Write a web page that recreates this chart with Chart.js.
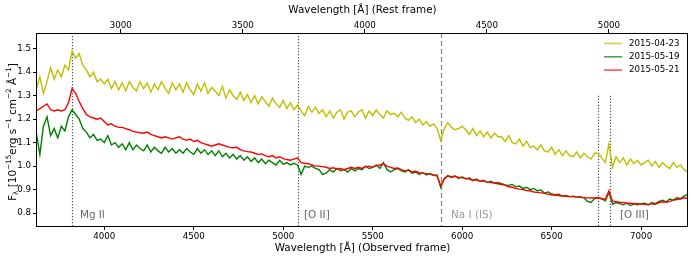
<!DOCTYPE html>
<html>
<head>
<meta charset="utf-8">
<script src="https://cdn.jsdelivr.net/npm/chart.js@4.4.0/dist/chart.umd.min.js"></script>
<style>
  html, body { margin: 0; padding: 0; background: #fff; }
  canvas { display: block; }
</style>
</head>
<body>
<canvas id="spectrum" width="694" height="258"></canvas>
<script>
// observed wavelength grid (A)
const WAVELENGTH = [
  3620, 3640, 3660, 3680, 3700, 3720, 3740, 3760, 3780, 3800,
  3820, 3840, 3860, 3880, 3900, 3920, 3940, 3960, 3980, 4000,
  4020, 4040, 4060, 4080, 4100, 4120, 4140, 4160, 4180, 4200,
  4220, 4240, 4260, 4280, 4300, 4320, 4340, 4360, 4380, 4400,
  4420, 4440, 4460, 4480, 4500, 4520, 4540, 4560, 4580, 4600,
  4620, 4640, 4660, 4680, 4700, 4720, 4740, 4760, 4780, 4800,
  4820, 4840, 4860, 4880, 4900, 4920, 4940, 4960, 4980, 5000,
  5020, 5040, 5060, 5080, 5100, 5120, 5140, 5160, 5180, 5200,
  5220, 5240, 5260, 5280, 5300, 5320, 5340, 5360, 5380, 5400,
  5420, 5440, 5460, 5480, 5500, 5520, 5540, 5560, 5580, 5600,
  5620, 5640, 5660, 5680, 5700, 5720, 5740, 5760, 5780, 5800,
  5820, 5840, 5860, 5880, 5900, 5920, 5940, 5960, 5980, 6000,
  6020, 6040, 6060, 6080, 6100, 6120, 6140, 6160, 6180, 6200,
  6220, 6240, 6260, 6280, 6300, 6320, 6340, 6360, 6380, 6400,
  6420, 6440, 6460, 6480, 6500, 6520, 6540, 6560, 6580, 6600,
  6620, 6640, 6660, 6680, 6700, 6720, 6740, 6760, 6780, 6800,
  6820, 6840, 6860, 6880, 6900, 6920, 6940, 6960, 6980, 7000,
  7020, 7040, 7060, 7080, 7100, 7120, 7140, 7160, 7180, 7200,
  7220, 7240, 7260
];

// 2015-04-23
const FLUX_0423 = [
  1.33, 1.38, 1.31, 1.36, 1.42, 1.37, 1.41, 1.38, 1.43, 1.41,
  1.49, 1.46, 1.48, 1.43, 1.41, 1.38, 1.40, 1.36, 1.37, 1.35,
  1.37, 1.33, 1.36, 1.325, 1.355, 1.32, 1.36, 1.335, 1.32, 1.36,
  1.33, 1.355, 1.315, 1.35, 1.325, 1.36, 1.33, 1.31, 1.355, 1.325,
  1.35, 1.315, 1.355, 1.325, 1.305, 1.35, 1.32, 1.355, 1.31, 1.335,
  1.32, 1.30, 1.34, 1.29, 1.325, 1.30, 1.285, 1.315, 1.28, 1.305,
  1.27, 1.30, 1.265, 1.295, 1.275, 1.255, 1.29, 1.265, 1.25, 1.28,
  1.245, 1.27, 1.24, 1.26, 1.235, 1.215, 1.255, 1.23, 1.25, 1.225,
  1.24, 1.21, 1.235, 1.205, 1.23, 1.24, 1.20, 1.23, 1.235, 1.21,
  1.23, 1.24, 1.205, 1.235, 1.215, 1.24, 1.22, 1.205, 1.235, 1.22,
  1.225, 1.21, 1.23, 1.205, 1.195, 1.21, 1.185, 1.20, 1.175, 1.19,
  1.17, 1.18, 1.16, 1.11, 1.16, 1.185, 1.165, 1.155, 1.16, 1.17,
  1.155, 1.135, 1.16, 1.13, 1.15, 1.125, 1.145, 1.12, 1.14, 1.125,
  1.125, 1.105, 1.13, 1.10, 1.095, 1.115, 1.085, 1.105, 1.08, 1.085,
  1.07, 1.09, 1.065, 1.06, 1.08, 1.05, 1.07, 1.045, 1.065, 1.045,
  1.04, 1.06, 1.035, 1.055, 1.04, 1.03, 1.055, 1.055, 1.035, 1.015,
  1.095, 0.995, 1.04, 1.015, 1.035, 1.005, 1.03, 1.01, 1.025, 1.005,
  1.015, 1.025, 1.0, 1.02, 0.995, 1.015, 1.0, 0.99, 1.015, 0.995,
  1.005, 0.985, 0.975
];

// 2015-05-19
const FLUX_0519 = [
  1.14, 1.05, 1.17, 1.21, 1.13, 1.16, 1.12, 1.17, 1.15, 1.21,
  1.24, 1.22, 1.20, 1.16, 1.145, 1.12, 1.135, 1.11, 1.115, 1.10,
  1.13, 1.09, 1.10, 1.08, 1.095, 1.07, 1.10, 1.07, 1.09, 1.075,
  1.065, 1.09, 1.06, 1.08, 1.065, 1.055, 1.08, 1.06, 1.075, 1.055,
  1.07, 1.055, 1.075, 1.06, 1.05, 1.075, 1.055, 1.07, 1.05, 1.065,
  1.045, 1.065, 1.04, 1.055, 1.035, 1.05, 1.03, 1.045, 1.025, 1.04,
  1.02, 1.035, 1.015, 1.03, 1.01, 1.025, 1.015, 1.005, 1.025, 1.008,
  1.015, 1.005, 1.012, 1.005, 0.965, 1.0, 0.995, 1.0, 0.99, 0.985,
  0.965, 0.97, 0.985, 0.975, 0.99, 0.98, 0.985, 0.975, 0.99, 0.98,
  0.99, 0.985, 1.0, 0.99, 0.995, 1.005, 0.99, 1.015, 0.985, 0.975,
  0.985, 0.99, 0.98, 0.975, 0.985, 0.97, 0.975, 0.965, 0.972, 0.962,
  0.968, 0.96, 0.962, 0.91, 0.948, 0.96, 0.952, 0.958, 0.948, 0.955,
  0.945, 0.95, 0.938, 0.945, 0.935, 0.94, 0.93, 0.936, 0.928, 0.93,
  0.925, 0.92, 0.918, 0.922, 0.912, 0.915, 0.905, 0.91, 0.90, 0.905,
  0.895, 0.898, 0.885, 0.89, 0.882, 0.878, 0.88, 0.872, 0.875, 0.87,
  0.872, 0.868, 0.87, 0.865, 0.85, 0.845, 0.862, 0.865, 0.86, 0.852,
  0.888, 0.838, 0.845, 0.84, 0.835, 0.842, 0.832, 0.838, 0.835, 0.84,
  0.842, 0.835, 0.845, 0.84, 0.85, 0.855, 0.848, 0.86, 0.855, 0.865,
  0.862, 0.872, 0.88
];

// 2015-05-21
const FLUX_0521 = [
  1.235, 1.245, 1.255, 1.265, 1.24, 1.235, 1.24, 1.235, 1.24, 1.27,
  1.33, 1.31, 1.275, 1.245, 1.22, 1.21, 1.205, 1.20, 1.205, 1.19,
  1.175, 1.18, 1.17, 1.165, 1.165, 1.16, 1.155, 1.148, 1.145, 1.142,
  1.14, 1.145, 1.135, 1.13, 1.125, 1.12, 1.125, 1.12, 1.115, 1.12,
  1.125, 1.115, 1.11, 1.115, 1.105, 1.11, 1.10, 1.095, 1.09, 1.085,
  1.09, 1.095, 1.09, 1.085, 1.08, 1.078, 1.08, 1.07, 1.065, 1.062,
  1.06, 1.055, 1.05, 1.052, 1.045, 1.04, 1.045, 1.035, 1.04, 1.032,
  1.028, 1.025, 1.03, 1.035, 1.015, 1.012, 1.01, 1.005, 1.0, 1.0,
  0.998, 0.995, 0.99, 0.993, 0.988, 0.99, 0.985, 0.99, 0.995, 0.99,
  0.995, 0.99, 0.998, 1.0, 0.995, 1.002, 1.005, 1.01, 1.0, 0.995,
  0.99, 0.992, 0.985, 0.98, 0.983, 0.975, 0.978, 0.972, 0.97, 0.968,
  0.966, 0.962, 0.958, 0.915, 0.945, 0.958, 0.955, 0.957, 0.952, 0.95,
  0.948, 0.945, 0.94, 0.942, 0.935, 0.937, 0.932, 0.93, 0.928, 0.925,
  0.922, 0.918, 0.912, 0.91, 0.905, 0.902, 0.90, 0.896, 0.895, 0.89,
  0.888, 0.886, 0.884, 0.88, 0.878, 0.876, 0.875, 0.873, 0.872, 0.87,
  0.87, 0.868, 0.867, 0.866, 0.865, 0.864, 0.864, 0.865, 0.862, 0.858,
  0.895, 0.852, 0.848, 0.846, 0.845, 0.843, 0.842, 0.84, 0.84, 0.838,
  0.837, 0.836, 0.84, 0.838, 0.845, 0.848, 0.846, 0.85, 0.855, 0.858,
  0.86, 0.865, 0.862
];

const DATES = ['2015-04-23', '2015-05-19', '2015-05-21'];
const COLORS = ['#bfbf00', '#008000', '#ff0000'];

const OBS_TICKS = [4000, 4500, 5000, 5500, 6000, 6500, 7000];
const REST_TICKS = [3000, 3500, 4000, 4500, 5000];
const FLUX_TICKS = [0.8, 0.9, 1.0, 1.1, 1.2, 1.3, 1.4, 1.5];

const ONE_PLUS_Z = 1.364;
const OBS_MIN = 3624, OBS_MAX = 7262;
const FLUX_MIN = 0.745, FLUX_MAX = 1.567;

// emission / absorption lines (observed wavelength)
const LINE_NAMES = ['Mg II', '[O II]', 'Na I (IS)', '[O III]'];
const LINE_WAVES = [[3818], [5082], [5880], [6760, 6826]];
const LINE_LABEL_AT = [3864, 5116, 5938, 6882];

const FONT = '"DejaVu Sans", sans-serif';

function series(flux) {
  return WAVELENGTH.map((w, i) => ({ x: w, y: flux[i] }));
}

// y title with sub/superscripts
const Y_TITLE = [
  ['F', 1, 0], ['\u03bb', 0.7, 2.5], [' [10', 1, 0], ['\u221215', 0.7, -4.5],
  ['erg s', 1, 0], ['\u22121', 0.7, -4.5], [' cm', 1, 0], ['\u22122', 0.7, -4.5],
  [' \u00c5', 1, 0], ['\u22121', 0.7, -4.5], [']', 1, 0]
];

function drawRich(ctx, parts, size) {
  let total = 0;
  parts.forEach(p => {
    ctx.font = (size * p[1]) + 'px ' + FONT;
    total += ctx.measureText(p[0]).width;
  });
  let x = -total / 2;
  parts.forEach(p => {
    ctx.font = (size * p[1]) + 'px ' + FONT;
    ctx.fillText(p[0], x, 3.8 + p[2]);
    x += ctx.measureText(p[0]).width;
  });
}

const decor = {
  id: 'decor',
  beforeDatasetsDraw(chart) {
    const ctx = chart.ctx, a = chart.chartArea;
    const xs = chart.scales.x, ys = chart.scales.y;
    ctx.save();
    ctx.lineWidth = 1.2;
    LINE_WAVES.forEach((waves, i) => {
      const isNa = LINE_NAMES[i].startsWith('Na');
      ctx.strokeStyle = isNa ? '#8a8a8a' : '#555';
      ctx.setLineDash(isNa ? [5, 3] : [1.2, 1.8]);
      const top = LINE_NAMES[i] === '[O III]' ? ys.getPixelForValue(1.3) : a.top;
      waves.forEach(w => {
        const px = Math.round(xs.getPixelForValue(w)) + 0.5;
        ctx.beginPath();
        ctx.moveTo(px, top);
        ctx.lineTo(px, a.bottom);
        ctx.stroke();
      });
    });
    ctx.restore();
  },
  afterDraw(chart) {
    const ctx = chart.ctx, a = chart.chartArea;
    const xs = chart.scales.x, ys = chart.scales.y;
    ctx.save();

    // frame
    ctx.strokeStyle = '#000';
    ctx.lineWidth = 1;
    ctx.strokeRect(a.left - 0.5, a.top + 0.5, a.right - a.left, a.bottom - a.top);

    // line labels
    ctx.font = '10.4px ' + FONT;
    ctx.textAlign = 'left';
    ctx.textBaseline = 'alphabetic';
    LINE_NAMES.forEach((name, i) => {
      ctx.fillStyle = name.startsWith('Na') ? '#9a9a9a' : '#666';
      ctx.fillText(name, xs.getPixelForValue(LINE_LABEL_AT[i]), ys.getPixelForValue(0.8) + 5);
    });

    // legend
    ctx.font = '8.7px ' + FONT;
    ctx.textBaseline = 'middle';
    DATES.forEach((d, i) => {
      const y = a.top + 10.5 + i * 13.3;
      ctx.strokeStyle = COLORS[i];
      ctx.globalAlpha = 0.75;
      ctx.lineWidth = 1.5;
      ctx.beginPath();
      ctx.moveTo(a.right - 84, y);
      ctx.lineTo(a.right - 66, y);
      ctx.stroke();
      ctx.globalAlpha = 1;
      ctx.fillStyle = '#000';
      ctx.fillText(d, a.right - 59, y);
    });

    // axis titles
    const cx = (a.left + a.right) / 2;
    ctx.font = '10.4px ' + FONT;
    ctx.textAlign = 'center';
    ctx.textBaseline = 'alphabetic';
    ctx.fillText('Wavelength [\u00c5] (Rest frame)', cx, 13.3);
    ctx.fillText('Wavelength [\u00c5] (Observed frame)', cx, 251);

    ctx.translate(12, 132);
    ctx.rotate(-Math.PI / 2);
    ctx.textAlign = 'left';
    drawRich(ctx, Y_TITLE, 10.4);
    ctx.restore();
  }
};

const tickFont = { family: FONT, size: 8.7 };
const tickGrid = { display: true, drawOnChartArea: false, drawTicks: true, tickLength: 4, color: '#000', lineWidth: 1 };

new Chart(document.getElementById('spectrum'), {
  type: 'line',
  data: {
    datasets: [
      { label: DATES[0], data: series(FLUX_0423), borderColor: COLORS[0], order: 2 },
      { label: DATES[1], data: series(FLUX_0519), borderColor: COLORS[1], order: 1 },
      { label: DATES[2], data: series(FLUX_0521), borderColor: COLORS[2], order: 0 }
    ]
  },
  options: {
    responsive: false,
    animation: false,
    devicePixelRatio: 1,
    parsing: false,
    elements: {
      point: { radius: 0 },
      line: { borderWidth: 1.4, tension: 0, fill: false }
    },
    layout: { padding: { left: 0, right: 6, top: 0, bottom: 0 } },
    plugins: { legend: { display: false }, tooltip: { enabled: false } },
    scales: {
      x: {
        type: 'linear', position: 'bottom', min: OBS_MIN, max: OBS_MAX,
        grid: tickGrid, border: { display: false },
        ticks: { font: tickFont, color: '#000', padding: 2, maxRotation: 0, autoSkip: false, callback: v => String(v) },
        afterBuildTicks: s => { s.ticks = OBS_TICKS.map(v => ({ value: v })); },
        afterFit: s => { s.height = 32; }
      },
      xRest: {
        type: 'linear', position: 'top', axis: 'x',
        min: OBS_MIN / ONE_PLUS_Z, max: OBS_MAX / ONE_PLUS_Z,
        grid: tickGrid, border: { display: false },
        ticks: { font: tickFont, color: '#000', padding: -2, maxRotation: 0, autoSkip: false, callback: v => String(v) },
        afterBuildTicks: s => { s.ticks = REST_TICKS.map(v => ({ value: v })); },
        afterFit: s => { s.height = 33; }
      },
      y: {
        type: 'linear', position: 'left', min: FLUX_MIN, max: FLUX_MAX,
        grid: tickGrid, border: { display: false },
        ticks: { font: tickFont, color: '#000', padding: 2, callback: v => v.toFixed(1) },
        afterBuildTicks: s => { s.ticks = FLUX_TICKS.map(v => ({ value: v })); },
        afterFit: s => { s.width = 37; }
      }
    }
  },
  plugins: [decor]
});
</script>
</body>
</html>
